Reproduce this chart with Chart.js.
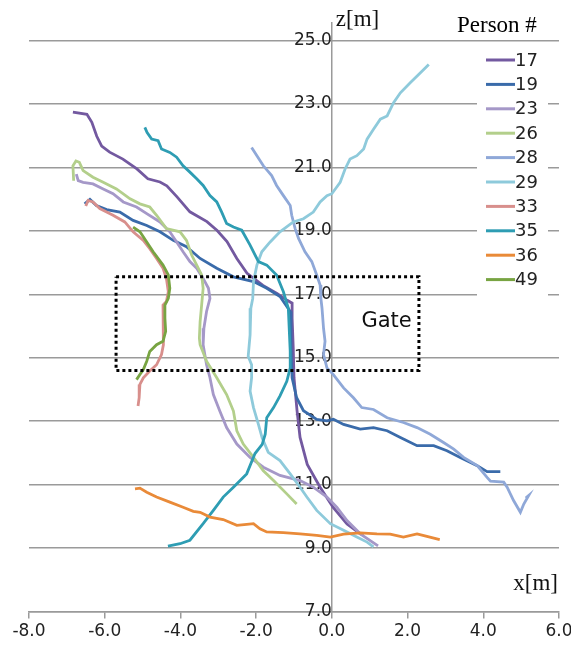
<!DOCTYPE html>
<html><head><meta charset="utf-8">
<script src="https://cdn.jsdelivr.net/npm/chart.js@4/dist/chart.umd.min.js"></script>
<style>html,body{margin:0;padding:0;background:#fff;}</style>
</head><body>
<canvas id="c" width="571" height="648"></canvas>
<script>
// ---- data ----
const personIds = ['17','19','23','26','28','29','33','35','36','49'];
const personColors = ['#7359A0','#3A6BAA','#A598C8','#B3CF8B','#8FA8D8','#8ECADB','#D88F8C','#2E9DB3','#E98A38','#78A442'];
const xTicks = [-8,-6,-4,-2,0,2,4,6];
const yTicks = [7,9,11,13,15,17,19,21,23,25];

const p17 = [[-6.84,22.74],[-6.47,22.67],[-6.34,22.42],[-6.21,21.98],[-6.08,21.67],[-5.87,21.48],[-5.52,21.26],[-5.15,20.95],[-4.86,20.64],[-4.54,20.54],[-4.36,20.42],[-4.09,20.07],[-3.75,19.60],[-3.30,19.29],[-3.03,19.01],[-2.77,18.66],[-2.51,18.13],[-2.24,17.66],[-1.82,17.28],[-1.45,17.03],[-1.18,16.81],[-1.05,16.72],[-1.05,16.25],[-1.02,15.31],[-1.00,14.37],[-0.92,13.33],[-0.84,12.49],[-0.65,11.64],[-0.31,10.92],[0.03,10.29],[0.40,9.76],[0.75,9.45],[0.83,9.41]];
const p19 = [[-6.53,19.85],[-6.39,19.99],[-6.22,19.80],[-5.95,19.67],[-5.60,19.59],[-5.25,19.33],[-4.89,19.17],[-4.54,18.97],[-4.19,18.70],[-3.84,18.50],[-3.48,18.13],[-3.04,17.82],[-2.60,17.55],[-2.07,17.40],[-1.72,17.19],[-1.37,16.93],[-1.10,16.46],[-1.08,15.31],[-1.05,14.37],[-0.93,13.74],[-0.75,13.33],[-0.40,13.06],[-0.13,13.01],[0.04,13.06],[0.31,12.90],[0.75,12.75],[1.10,12.80],[1.46,12.70],[1.81,12.49],[2.25,12.23],[2.69,12.23],[3.04,12.07],[3.39,11.86],[3.84,11.60],[4.10,11.41],[4.45,11.41]];
const p23 = [[-6.75,20.79],[-6.70,20.58],[-6.57,20.53],[-6.31,20.48],[-6.04,20.32],[-5.78,20.17],[-5.51,19.91],[-5.16,19.75],[-4.89,19.54],[-4.54,19.28],[-4.28,18.97],[-4.10,18.65],[-3.93,18.34],[-3.75,18.03],[-3.57,17.82],[-3.40,17.50],[-3.26,17.19],[-3.22,16.87],[-3.31,16.46],[-3.38,15.93],[-3.40,15.41],[-3.31,14.78],[-3.22,14.37],[-3.13,13.84],[-2.96,13.32],[-2.78,12.80],[-2.51,12.28],[-2.16,11.86],[-1.81,11.55],[-1.37,11.29],[-0.84,11.13],[-0.49,10.92],[-0.13,10.61],[0.13,10.29],[0.40,9.87],[0.75,9.45],[1.22,9.07]];
const p26 = [[-6.82,20.58],[-6.84,21.05],[-6.76,21.20],[-6.67,21.16],[-6.57,20.90],[-6.31,20.69],[-6.04,20.53],[-5.69,20.32],[-5.33,20.01],[-5.07,19.85],[-4.81,19.75],[-4.63,19.49],[-4.37,19.07],[-4.01,18.97],[-3.84,18.70],[-3.70,18.23],[-3.57,17.92],[-3.44,17.61],[-3.40,17.19],[-3.44,16.66],[-3.48,16.14],[-3.50,15.62],[-3.48,15.41],[-3.31,14.89],[-3.04,14.37],[-2.78,13.84],[-2.60,13.32],[-2.51,12.70],[-2.34,12.28],[-2.07,11.86],[-1.81,11.44],[-1.54,11.13],[-1.19,10.71],[-0.93,10.39]];
const p28 = [[-2.12,21.63],[-1.98,21.37],[-1.81,21.05],[-1.59,20.74],[-1.46,20.43],[-1.28,20.11],[-1.10,19.80],[-1.06,19.49],[-0.97,19.07],[-0.88,18.76],[-0.71,18.34],[-0.53,18.03],[-0.40,17.61],[-0.31,17.29],[-0.29,16.87],[-0.26,16.56],[-0.22,15.93],[-0.18,15.52],[-0.22,15.10],[-0.13,14.68],[0.04,14.47],[0.31,14.05],[0.57,13.74],[0.79,13.43],[1.10,13.37],[1.46,13.11],[1.89,12.96],[2.25,12.80],[2.60,12.59],[2.95,12.33],[3.22,12.12],[3.48,11.86],[3.84,11.60],[4.10,11.23],[4.19,11.11],[4.54,11.08],[4.63,10.92],[4.80,10.50],[4.98,10.13],[5.07,10.39],[5.20,10.66],[5.12,10.58]];
const p29 = [[2.56,24.24],[2.34,23.98],[2.07,23.67],[1.81,23.35],[1.63,23.04],[1.46,22.62],[1.28,22.52],[1.10,22.20],[0.93,21.89],[0.84,21.58],[0.66,21.37],[0.48,21.26],[0.35,20.95],[0.22,20.53],[0.00,20.17],[-0.13,20.11],[-0.31,19.91],[-0.49,19.59],[-0.75,19.38],[-1.02,19.28],[-1.37,18.97],[-1.63,18.65],[-1.85,18.34],[-1.98,17.92],[-2.07,17.40],[-2.09,16.87],[-2.14,16.56],[-2.16,15.72],[-2.21,15.05],[-2.12,14.78],[-2.12,14.37],[-2.16,13.95],[-2.07,13.43],[-1.94,12.90],[-1.84,12.47],[-1.68,12.02],[-1.37,11.76],[-1.10,11.34],[-0.84,10.92],[-0.66,10.61],[-0.40,10.19],[-0.04,9.77],[0.31,9.56],[0.66,9.35],[0.93,9.19],[1.10,9.04]];
const p33 = [[-6.50,19.78],[-6.44,19.96],[-6.31,19.91],[-6.13,19.70],[-5.78,19.49],[-5.47,19.28],[-5.25,18.97],[-4.98,18.70],[-4.81,18.44],[-4.63,18.13],[-4.46,17.82],[-4.37,17.50],[-4.32,17.08],[-4.37,16.77],[-4.46,16.66],[-4.46,16.04],[-4.44,15.41],[-4.50,15.10],[-4.63,14.78],[-4.81,14.58],[-4.98,14.37],[-5.07,14.16],[-5.09,13.74],[-5.12,13.48]];
const p35 = [[-4.94,22.26],[-4.88,22.10],[-4.76,21.89],[-4.59,21.84],[-4.50,21.58],[-4.28,21.47],[-4.10,21.32],[-3.93,21.05],[-3.75,20.85],[-3.57,20.64],[-3.40,20.43],[-3.22,20.11],[-3.04,19.91],[-2.91,19.59],[-2.78,19.23],[-2.60,19.12],[-2.38,19.02],[-2.16,18.55],[-1.94,18.03],[-1.72,17.92],[-1.46,17.61],[-1.28,17.08],[-1.15,16.56],[-1.10,15.20],[-1.10,14.68],[-1.19,14.26],[-1.37,13.80],[-1.54,13.43],[-1.72,13.11],[-1.76,12.59],[-1.84,12.27],[-2.03,11.98],[-2.25,11.34],[-2.60,10.92],[-2.87,10.61],[-3.13,10.19],[-3.40,9.77],[-3.75,9.25],[-4.01,9.14],[-4.33,9.06]];
const p36 = [[-5.20,10.87],[-5.07,10.89],[-4.89,10.76],[-4.63,10.61],[-4.28,10.45],[-3.93,10.29],[-3.66,10.16],[-3.48,10.13],[-3.22,9.98],[-2.87,9.90],[-2.51,9.72],[-2.25,9.75],[-2.07,9.77],[-1.90,9.61],[-1.72,9.51],[-1.28,9.49],[-0.84,9.45],[-0.40,9.40],[-0.04,9.35],[0.31,9.44],[0.75,9.48],[1.19,9.45],[1.54,9.44],[1.89,9.35],[2.25,9.45],[2.51,9.37],[2.85,9.27]];
const p49 = [[-5.25,19.12],[-5.07,18.97],[-4.89,18.65],[-4.72,18.34],[-4.46,17.92],[-4.32,17.61],[-4.28,17.19],[-4.32,16.87],[-4.41,16.66],[-4.41,16.25],[-4.39,15.83],[-4.46,15.52],[-4.63,15.41],[-4.81,15.20],[-4.89,14.89],[-4.98,14.63],[-5.07,14.47],[-5.16,14.31]];
const personPaths = [p17,p19,p23,p26,p28,p29,p33,p35,p36,p49];

const gateBox = [[-5.7,17.55],[2.3,17.55],[2.3,14.6],[-5.7,14.6],[-5.7,17.55]];
const gateLabel = {text:'Gate', x:0.78, y:16.15};

// ---- build ----
const toXY = arr => arr.map(p => ({x:p[0], y:p[1]}));
const datasets = [{
  label:'Gate', data:toXY(gateBox), borderColor:'#000', borderWidth:3,
  borderDash:[3,3], showLine:true, pointRadius:0, order:-100, isGate:true
}];
personIds.forEach((id,i) => datasets.push({
  label:id, data:toXY(personPaths[i]), borderColor:personColors[i],
  backgroundColor:personColors[i], borderWidth:2.8, showLine:true,
  pointRadius:0, order:-i
}));

const SANS = '"DejaVu Sans", Verdana, sans-serif';
const SERIF = '"Liberation Serif", "Times New Roman", serif';

const overlay = {
  id:'overlay',
  afterDatasetsDraw(chart){
    const ctx = chart.ctx, xs = chart.scales.x, ys = chart.scales.y, ca = chart.chartArea;
    ctx.save();
    ctx.fillStyle = '#111';
    ctx.font = '21px ' + SANS;
    ctx.textAlign = 'left'; ctx.textBaseline = 'middle';
    ctx.fillText(gateLabel.text, xs.getPixelForValue(gateLabel.x), ys.getPixelForValue(gateLabel.y));
    ctx.font = '23px ' + SERIF;
    ctx.fillText('z[m]', xs.getPixelForValue(0) + 4, ca.top - 3);
    ctx.textAlign = 'right';
    ctx.fillText('x[m]', ca.right - 1, ca.bottom - 28);
    ctx.fillStyle = '#fff';
    ctx.fillRect(477, 44, 71, 258);
    ctx.fillStyle = '#000';
    ctx.textAlign = 'left';
    ctx.fillText('Person #', 457, 26);
    ctx.font = '18px ' + SANS;
    const sets = chart.data.datasets.filter(d => !d.isGate);
    sets.forEach((d,i) => {
      const yy = 60 + i*24.4;
      ctx.strokeStyle = d.borderColor; ctx.lineWidth = 3;
      ctx.beginPath(); ctx.moveTo(486, yy); ctx.lineTo(515, yy); ctx.stroke();
      ctx.fillStyle = '#222';
      ctx.fillText(d.label, 515, yy + 1);
    });
    ctx.restore();
  }
};

new Chart(document.getElementById('c'), {
  type:'scatter',
  data:{datasets},
  plugins:[overlay],
  options:{
    responsive:false, animation:false, devicePixelRatio:1,
    layout:{padding:{left:29, right:12, top:23, bottom:3}},
    plugins:{legend:{display:false}, tooltip:{enabled:false}},
    scales:{
      x:{
        type:'linear', min:-8, max:6,
        afterBuildTicks: ax => { ax.ticks = xTicks.map(v => ({value:v})); },
        afterFit: s => { s.paddingLeft = 0; s.paddingRight = 0; },
        ticks:{callback:v => v.toFixed(1), font:{family:SANS, size:17}, color:'#222', padding:3, maxRotation:0, autoSkip:false},
        grid:{drawOnChartArea:false, drawTicks:true, tickLength:7, color:'#9a9a9a', lineWidth:1.5},
        border:{color:'#9a9a9a', width:1.5}
      },
      y:{
        type:'linear', min:7, max:25.55, position:{x:0},
        afterBuildTicks: ax => { ax.ticks = yTicks.map(v => ({value:v})); },
        afterFit: s => { s.paddingTop = 0; s.paddingBottom = 0; },
        ticks:{callback:v => v.toFixed(1), font:{family:SANS, size:17}, color:'#222', padding:24, autoSkip:false},
        grid:{color:'#9a9a9a', lineWidth:1.5, drawTicks:false},
        border:{color:'#9a9a9a', width:1.5}
      }
    }
  }
});
</script>
</body></html>
